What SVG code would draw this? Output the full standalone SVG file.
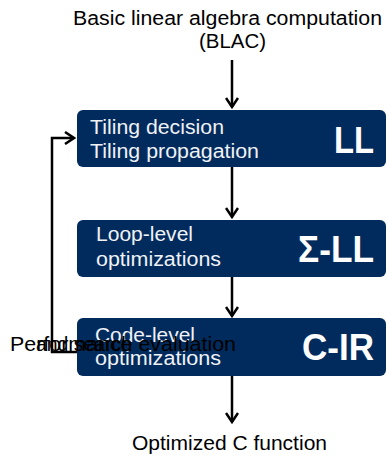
<svg xmlns="http://www.w3.org/2000/svg" width="388" height="459" viewBox="0 0 388 459">
<defs>
<style>
.box{fill:#012b5d}
.t{font-family:"Liberation Sans",Arial,sans-serif;font-size:20px;fill:#000}
.bt{font-family:"Liberation Sans",Arial,sans-serif;font-size:20px;fill:#f0f2f6}
.big{font-family:"Liberation Sans",Arial,sans-serif;font-size:36px;font-weight:bold;fill:#fff;text-anchor:end}
.c{fill:none;stroke:#000;stroke-width:2.5}
</style>
<marker id="ah" markerWidth="12" markerHeight="14" refX="10" refY="7" orient="auto" markerUnits="userSpaceOnUse">
<path d="M1,1 L10,7 L1,13" fill="none" stroke="#000" stroke-width="2.5"/>
</marker>
</defs>
<text class="t" x="73" y="25" textLength="309" lengthAdjust="spacingAndGlyphs">Basic linear algebra computation</text>
<text class="t" x="199" y="48" textLength="67" lengthAdjust="spacingAndGlyphs">(BLAC)</text>
<g id="connectors">
<line class="c" x1="232" y1="60" x2="232" y2="107" marker-end="url(#ah)"/>
<line class="c" x1="232" y1="167" x2="232" y2="217" marker-end="url(#ah)"/>
<line class="c" x1="232" y1="277" x2="232" y2="316" marker-end="url(#ah)"/>
<line class="c" x1="232" y1="376" x2="232" y2="422" marker-end="url(#ah)"/>
<polyline class="c" points="77,352 52,352 52,138 74,138" marker-end="url(#ah)"/>
</g>
<g id="ll">
<rect class="box" x="77" y="110" width="309" height="57" rx="6"/>
<text class="bt" x="90" y="134" textLength="134" lengthAdjust="spacingAndGlyphs">Tiling decision</text>
<text class="bt" x="90" y="158" textLength="169" lengthAdjust="spacingAndGlyphs">Tiling propagation</text>
<text class="big" x="374" y="153" textLength="40" lengthAdjust="spacingAndGlyphs">LL</text>
</g>
<g id="sigma-ll">
<rect class="box" x="77" y="220" width="309" height="57" rx="6"/>
<text class="bt" x="96" y="241" textLength="97" lengthAdjust="spacingAndGlyphs">Loop-level</text>
<text class="bt" x="96" y="266" textLength="125" lengthAdjust="spacingAndGlyphs">optimizations</text>
<text class="big" x="374" y="262" textLength="76" lengthAdjust="spacingAndGlyphs">Σ-LL</text>
</g>
<g id="c-ir">
<rect class="box" x="77" y="318" width="309" height="58" rx="6"/>
<text class="bt" x="95" y="342" textLength="100" lengthAdjust="spacingAndGlyphs">Code-level</text>
<text class="bt" x="95" y="365" textLength="126" lengthAdjust="spacingAndGlyphs">optimizations</text>
<text class="big" x="374" y="360" textLength="72" lengthAdjust="spacingAndGlyphs">C-IR</text>
</g>
<g id="feedback-label">
<text class="t" x="10" y="351" textLength="226" lengthAdjust="spacingAndGlyphs">Performance evaluation</text>
<text class="t" x="36" y="351" textLength="96" lengthAdjust="spacingAndGlyphs">and search</text>
</g>
<text class="t" x="132" y="450" textLength="195" lengthAdjust="spacingAndGlyphs">Optimized C function</text>
</svg>
